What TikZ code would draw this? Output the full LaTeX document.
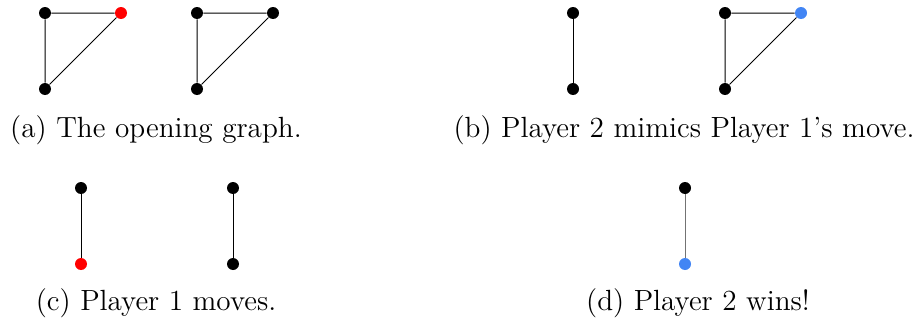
\documentclass[tikz,border=0pt]{standalone}
\definecolor{movered}{RGB}{255,0,0}
\definecolor{moveblue}{RGB}{66,133,244}
\tikzset{
  vtx/.style={circle,fill=black,inner sep=0pt,minimum size=6pt},
  redvtx/.style={vtx,fill=movered},
  bluevtx/.style={vtx,fill=moveblue},
  edge/.style={draw=black,line width=0.5pt},
  captext/.style={font=\fontsize{14.6}{17}\selectfont,inner sep=0pt,anchor=base}
}
\begin{document}
\begin{tikzpicture}[x=0.5pt,y=-0.5pt]
\useasboundingbox (0,0) rectangle (922,321);
% (a) two triangles, one vertex marked red
\node[vtx] (a1) at (45,13) {};
\node[redvtx] (a2) at (121,13) {};
\node[vtx] (a3) at (45,89) {};
\draw[edge] (a1) -- (a2) (a1) -- (a3) (a2) -- (a3);
\node[vtx] (a4) at (197,13) {};
\node[vtx] (a5) at (273,13) {};
\node[vtx] (a6) at (197,89) {};
\draw[edge] (a4) -- (a5) (a4) -- (a6) (a5) -- (a6);
\node[captext] (capa) at (156,137) {(a) The opening graph.};
% (b) an edge and a triangle with a blue vertex
\node[vtx] (b1) at (573,13) {};
\node[vtx] (b2) at (573,89) {};
\draw[edge] (b1) -- (b2);
\node[vtx] (b3) at (725,13) {};
\node[bluevtx] (b4) at (801,13) {};
\node[vtx] (b5) at (725,89) {};
\draw[edge] (b3) -- (b4) (b3) -- (b5) (b4) -- (b5);
\node[captext] (capb) at (684,137) {(b) Player 2 mimics Player 1's move.};
% (c) two edges, one vertex marked red
\node[vtx] (c1) at (81,188) {};
\node[redvtx] (c2) at (81,264) {};
\draw[edge] (c1) -- (c2);
\node[vtx] (c3) at (233,188) {};
\node[vtx] (c4) at (233,264) {};
\draw[edge] (c3) -- (c4);
\node[captext] (capc) at (156,310) {(c) Player 1 moves.};
% (d) a single edge with a blue vertex
\node[vtx] (d1) at (685,188) {};
\node[bluevtx] (d2) at (685,264) {};
\draw[edge,draw=black!55] (d1) -- (d2);
\node[captext] (capd) at (698,310) {(d) Player 2 wins!};
\end{tikzpicture}
\end{document}
